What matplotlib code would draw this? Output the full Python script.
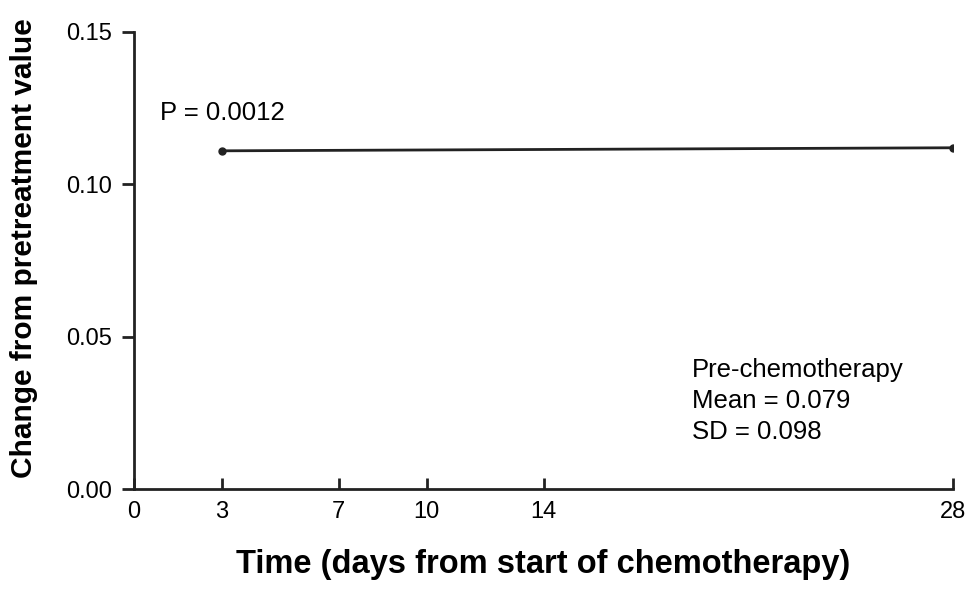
import matplotlib.pyplot as plt

# change from pretreatment value at each sampled day
days = [3, 28]
change = [0.111, 0.112]

xticks = [0, 3, 7, 10, 14, 28]
yticks = [0.00, 0.05, 0.10, 0.15]
ytick_labels = ['0.00', '0.05', '0.10', '0.15']

p_text = 'P = 0.0012'
pre_text = 'Pre-chemotherapy\nMean = 0.079\nSD = 0.098'

plt.rcParams['font.family'] = ['Liberation Sans', 'DejaVu Sans']

fig = plt.figure(figsize=(9.7, 5.89), dpi=100)
ax = fig.add_axes([134/970, 1 - 489/589, (953 - 134)/970, (489 - 32)/589])

ax.plot(days, change, color='#222222', lw=2, marker='o', ms=5)

ax.set_xlim(0, 28)
ax.set_ylim(0, 0.15)
ax.spines['top'].set_visible(False)
ax.spines['right'].set_visible(False)
for s in ['left', 'bottom']:
    ax.spines[s].set_linewidth(2)
    ax.spines[s].set_color('#222222')

ax.set_xticks(xticks)
ax.set_yticks(yticks)
ax.set_yticklabels(ytick_labels)
ax.tick_params(axis='x', direction='in', length=8, width=2, labelsize=17,
               pad=9, color='#222222')
ax.tick_params(axis='y', direction='out', length=9, width=2, labelsize=17,
               pad=7, color='#222222')

ax.set_xlabel('Time (days from start of chemotherapy)', fontsize=23.5,
              fontweight='bold', labelpad=18)
ax.set_ylabel('Change from pretreatment value', fontsize=21.5,
              fontweight='bold')
ax.yaxis.set_label_coords(-0.117, 0.528)

ax.text(0.89, 0.1234, p_text, fontsize=18.5, va='center', ha='left')
ax.text(19.08, 0.0289, pre_text, fontsize=18.5, va='center', ha='left',
        linespacing=1.38)

fig.savefig('out.png', dpi=100)
